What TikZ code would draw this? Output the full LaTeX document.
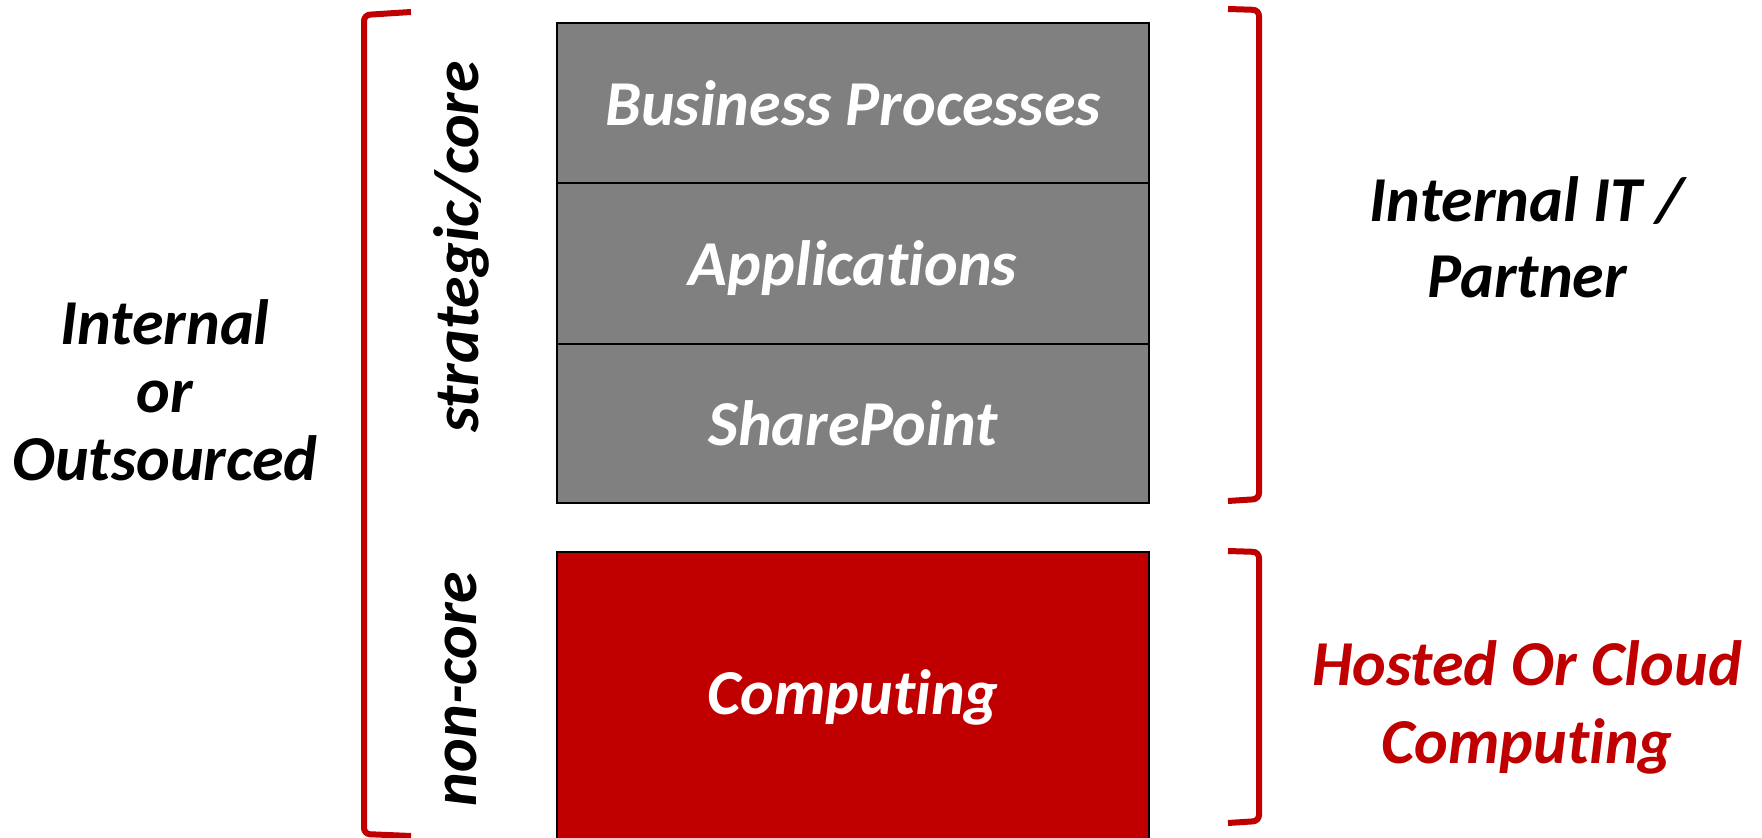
\documentclass[tikz,border=0pt]{standalone}
\usepackage{fontspec}
\setmainfont[Ligatures=NoCommon]{Carlito}
\definecolor{bred}{HTML}{C00000}
\definecolor{bgray}{HTML}{808080}
\begin{document}
\begin{tikzpicture}[x=0.5pt,y=-0.5pt,
  layer/.style={draw=black,line width=1pt,inner sep=0pt,anchor=north west},
  lbl/.style={font=\fontsize{32}{34}\selectfont\bfseries\itshape,align=center,inner sep=0pt},
  brk/.style={draw=bred,line width=3pt,rounded corners=3pt}]
\useasboundingbox[fill=white] (0,0) rectangle (1762,838);
% stacked layers
\node[layer,fill=bgray,minimum width=296pt,minimum height=80pt] (bp) at (556,22) {};
\node[layer,fill=bgray,minimum width=296pt,minimum height=80.5pt] (app) at (556,182) {};
\node[layer,fill=bgray,minimum width=296pt,minimum height=79.5pt] (sp) at (556,343) {};
\node[layer,fill=bred,minimum width=296pt,minimum height=145pt] (comp) at (556,551) {};
\node[lbl,text=white] (tbp) at (bp.center) {Business Processes};
\node[lbl,text=white] (tapp) at ([yshift=-2.5pt]app.center) {Applications};
\node[lbl,text=white] (tsp) at (sp.center) {SharePoint};
\node[lbl,text=white] (tcomp) at (comp.center) {Computing};
% side labels
\node[lbl,rotate=90] (strat) at (461,247) {strategic/core};
\node[lbl,rotate=90] (noncore) at (461,689) {non-core};
\node[lbl] (io) at (165,390) {Internal\\or\\Outsourced};
\node[lbl,font=\fontsize{32}{38}\selectfont\bfseries\itshape] (iit) at (1527,237) {Internal IT /\\Partner};
\node[lbl,text=bred,font=\fontsize{32}{39}\selectfont\bfseries\itshape] (hoc) at (1527,707) {Hosted Or Cloud\\Computing};
% brackets
\coordinate (l1) at (411,12);
\coordinate (l2) at (411,836);
\draw[brk] (l1) -- (364,15) -- (364,834) -- (l2);
\coordinate (r1) at (1228,9);
\coordinate (r2) at (1228,501);
\draw[brk] (r1) -- (1259,10) -- (1259,499) -- (r2);
\coordinate (r3) at (1228,551);
\coordinate (r4) at (1228,823);
\draw[brk] (r3) -- (1259,552) -- (1259,821) -- (r4);
\end{tikzpicture}
\end{document}
